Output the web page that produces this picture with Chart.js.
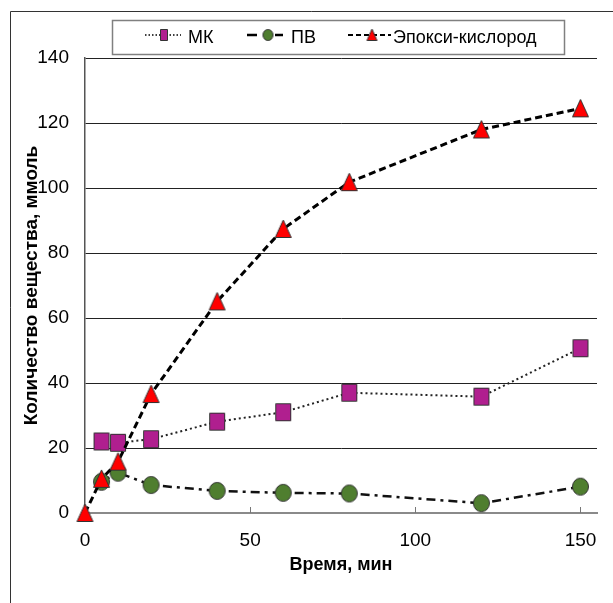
<!DOCTYPE html>
<html><head><meta charset="utf-8">
<script src="https://cdn.jsdelivr.net/npm/chart.js@4.4.1/dist/chart.umd.min.js"></script>
<style>html,body{margin:0;padding:0;background:#fff;} #wrap{width:613px;height:603px;position:relative;}</style>
</head><body><div id="wrap"><canvas id="c"></canvas></div>
<script>
const times = [0, 5, 10, 20, 40, 60, 80, 120, 150];
const mkValues = [null, 22.0, 21.6, 22.7, 28.1, 31.0, 37.0, 35.8, 50.7];
const pvValues = [null, 9.6, 12.4, 8.6, 6.8, 6.2, 6.0, 3.0, 8.1];
const epoxyValues = [0, 10.5, 15.8, 36.6, 65.1, 87.4, 101.8, 118.0, 124.5];
const seriesNames = ['МК', 'ПВ', 'Эпокси-кислород'];
const xTickValues = [0, 50, 100, 150];
const yTickValues = [0, 20, 40, 60, 80, 100, 120, 140];
const xTitle = 'Время, мин';
const yTitle = 'Количество вещества, ммоль';

const FONT = "'Liberation Sans', Arial, sans-serif";
const MAGENTA = '#B01F8F';
const GREEN = '#4F7E2F';
const RED = '#FF0000';

function marker(kind, w, h, fill) {
  const c = document.createElement('canvas');
  c.width = w + 2; c.height = h + 2;
  const g = c.getContext('2d');
  g.fillStyle = fill; g.strokeStyle = '#333'; g.lineWidth = 1;
  g.beginPath();
  if (kind === 'square') g.rect(1.5, 1.5, w - 1, h - 1);
  else if (kind === 'circle') g.ellipse(c.width / 2, c.height / 2, w / 2 - 0.5, h / 2 - 0.5, 0, 0, Math.PI * 2);
  else { g.moveTo(c.width / 2, 1); g.lineTo(w + 0.5, h + 0.5); g.lineTo(1.5, h + 0.5); g.closePath(); }
  g.fill(); g.stroke();
  return c;
}
const sqImg = marker('square', 16, 18, MAGENTA);
const ciImg = marker('circle', 17, 18, GREEN);
const trImg = marker('triangle', 17, 18, RED);
const sqSmall = marker('square', 8, 12, MAGENTA);
const ciSmall = marker('circle', 11, 12, GREEN);
const trSmall = marker('triangle', 11, 12, RED);

const toPts = vals => times.map((t, i) => ({ x: t, y: vals[i] })).filter(p => p.y !== null);

const framePlugin = {
  id: 'frame',
  afterDraw(chart) {
    const ctx = chart.ctx;
    ctx.save();
    ctx.strokeStyle = '#333'; ctx.lineWidth = 1;
    ctx.beginPath();
    ctx.moveTo(10.5, 603); ctx.lineTo(10.5, 11.5); ctx.lineTo(613, 11.5);
    ctx.stroke();
    // inward x tick marks
    const xs = chart.scales.x, ys = chart.scales.y;
    const y0 = ys.getPixelForValue(0);
    ctx.strokeStyle = '#777'; ctx.lineWidth = 1;
    xTickValues.forEach(v => {
      if (v === 0) return;
      const px = Math.round(xs.getPixelForValue(v)) + 0.5;
      ctx.beginPath(); ctx.moveTo(px, y0); ctx.lineTo(px, y0 - 6); ctx.stroke();
    });
    // legend
    ctx.strokeStyle = '#808080'; ctx.lineWidth = 1.5;
    ctx.strokeRect(112.5, 20.5, 452, 34);
    const sy = 35;
    ctx.strokeStyle = '#000';
    ctx.lineWidth = 1.5; ctx.setLineDash([1.5, 2]);
    ctx.beginPath(); ctx.moveTo(145, sy); ctx.lineTo(181, sy); ctx.stroke();
    ctx.setLineDash([]); ctx.lineWidth = 2.5;
    ctx.beginPath(); ctx.moveTo(247, sy); ctx.lineTo(257, sy); ctx.moveTo(275, sy); ctx.lineTo(283, sy); ctx.stroke();
    ctx.lineWidth = 2; ctx.setLineDash([5, 3]);
    ctx.beginPath(); ctx.moveTo(348, sy); ctx.lineTo(391, sy); ctx.stroke();
    ctx.setLineDash([]);
    ctx.drawImage(sqSmall, 164 - sqSmall.width / 2, sy - sqSmall.height / 2);
    ctx.drawImage(ciSmall, 268 - ciSmall.width / 2, sy - ciSmall.height / 2);
    ctx.drawImage(trSmall, 372 - trSmall.width / 2, sy - trSmall.height / 2);
    ctx.fillStyle = '#000';
    ctx.font = "18px " + FONT;
    ctx.textBaseline = 'alphabetic';
    ctx.fillText(seriesNames[0], 188, 43);
    ctx.fillText(seriesNames[1], 291, 43);
    ctx.fillText(seriesNames[2], 393, 43);
    ctx.restore();
  }
};

new Chart(document.getElementById('c'), {
  type: 'line',
  data: {
    datasets: [
      { label: seriesNames[0], data: toPts(mkValues), borderColor: '#222', borderWidth: 2, borderDash: [2, 3],
        pointStyle: sqImg, pointRadius: 9, order: 2, clip: false, fill: false, tension: 0 },
      { label: seriesNames[1], data: toPts(pvValues), borderColor: '#111', borderWidth: 2.5, borderDash: [9, 5, 3, 5],
        pointStyle: ciImg, pointRadius: 9, order: 1, clip: false, fill: false, tension: 0 },
      { label: seriesNames[2], data: toPts(epoxyValues), borderColor: '#000', borderWidth: 3, borderDash: [7, 4],
        pointStyle: trImg, pointRadius: 9, order: 0, clip: false, fill: false, tension: 0 }
    ]
  },
  options: {
    responsive: true, maintainAspectRatio: false, animation: false, events: [],
    layout: { padding: { left: 0, right: 16, top: 58, bottom: 0 } },
    plugins: { legend: { display: false }, tooltip: { enabled: false } },
    scales: {
      x: {
        type: 'linear', min: 0, max: 155,
        afterBuildTicks: s => { s.ticks = xTickValues.map(v => ({ value: v })); },
        afterFit: s => { s.height = 90; },
        grid: { display: false, drawTicks: false },
        border: { display: true, color: '#8a8a8a', width: 2 },
        ticks: { color: '#000', font: { family: FONT, size: 19 }, padding: 16, maxRotation: 0 },
        title: { display: true, text: xTitle, color: '#000', font: { family: FONT, size: 18, weight: 'bold' }, padding: { top: 0, bottom: 27 } }
      },
      y: {
        min: 0, max: 140,
        afterBuildTicks: s => { s.ticks = yTickValues.map(v => ({ value: v })); },
        afterFit: s => { s.width = 85; },
        grid: { color: ctx => ctx.tick && ctx.tick.value === 0 ? 'rgba(0,0,0,0)' : '#222', lineWidth: 1, drawTicks: false },
        border: { display: true, color: '#555', width: 1.5 },
        ticks: { color: '#000', font: { family: FONT, size: 19 }, padding: 16 },
        title: { display: true, text: yTitle, color: '#000', font: { family: FONT, size: 19, weight: 'bold' }, padding: { top: 20, bottom: 0 } }
      }
    }
  },
  plugins: [framePlugin]
});
</script></body></html>
